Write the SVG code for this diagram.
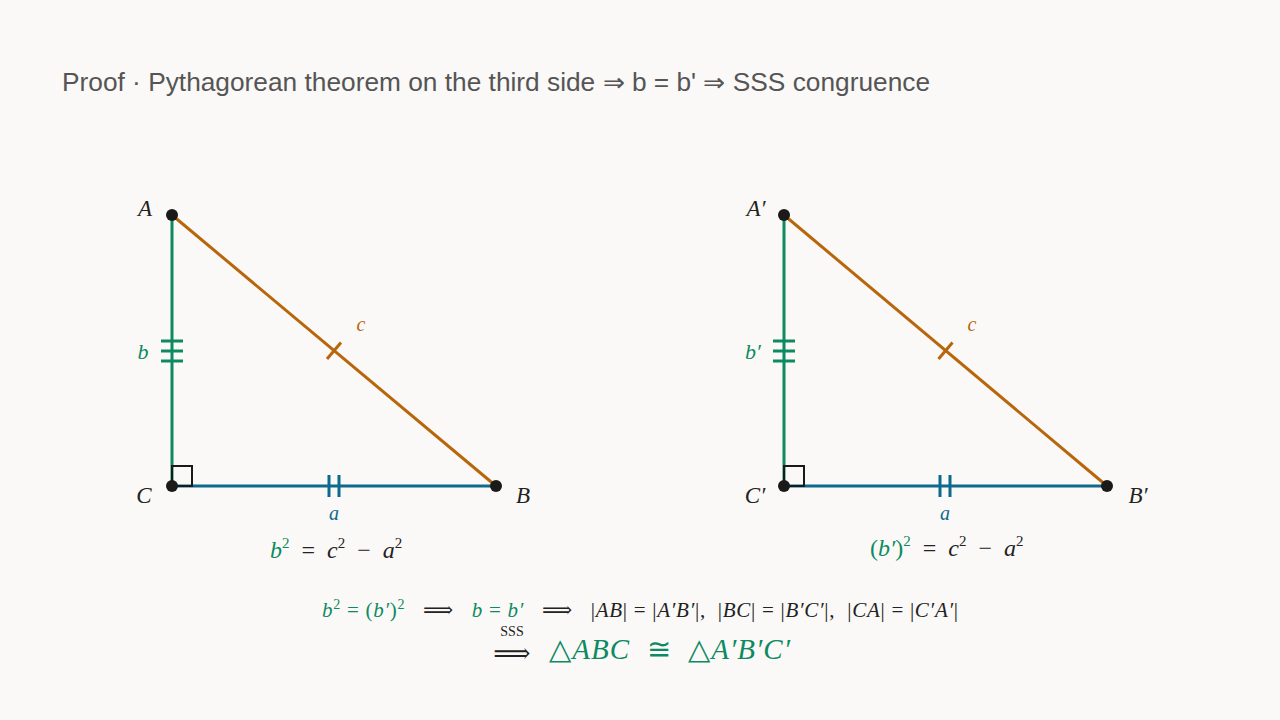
<svg xmlns="http://www.w3.org/2000/svg" width="1280" height="720" viewBox="0 0 1280 720">
<style>
text{white-space:pre;}
.m{font-family:"Liberation Serif","DejaVu Serif",serif;font-style:italic;}
.r{font-family:"Liberation Serif","DejaVu Serif",serif;font-style:normal;}
.g{fill:#0d8a62;}
.k{fill:#222;}
.o{fill:#b8660b;}
.bl{fill:#0e6a8c;}
.lg{stroke:#0d8a62;stroke-width:3;fill:none;}
.lb{stroke:#0e6a8c;stroke-width:3;fill:none;}
.lo{stroke:#b8660b;stroke-width:3;fill:none;}
.ra{stroke:#1a1a1a;stroke-width:2;fill:none;}
.dot{fill:#1a1a1a;}
</style>
<rect width="1280" height="720" fill="#faf9f7"/>
<text x="62" y="91" font-family="'Liberation Sans',Arial,sans-serif" font-size="25" fill="#555" textLength="868" lengthAdjust="spacingAndGlyphs">Proof · Pythagorean theorem on the third side ⇒ b = b' ⇒ SSS congruence</text>

<g id="tri1">
  <g id="connectors1">
    <line class="lg" x1="172" y1="215" x2="172" y2="486"/>
    <line class="lb" x1="172" y1="486" x2="496" y2="486"/>
    <line class="lo" x1="172" y1="215" x2="496" y2="486"/>
    <path class="lg" d="M161 341H183M161 351H183M161 361H183"/>
    <path class="lb" d="M329 475V497M339 475V497"/>
    <line class="lo" x1="327" y1="359" x2="341" y2="342.5"/>
    <rect class="ra" x="172" y="466" width="20" height="20"/>
  </g>
  <g id="A"><circle class="dot" cx="172" cy="215" r="6"/><text class="m k" x="145" y="216" font-size="23" text-anchor="middle">A</text></g>
  <g id="B"><circle class="dot" cx="496" cy="486" r="6"/><text class="m k" x="523" y="503" font-size="23" text-anchor="middle">B</text></g>
  <g id="C"><circle class="dot" cx="172" cy="486" r="6"/><text class="m k" x="144" y="503" font-size="23" text-anchor="middle">C</text></g>
  <text class="m g" x="143" y="359" font-size="22" text-anchor="middle">b</text>
  <text class="m o" x="361" y="331" font-size="20" text-anchor="middle">c</text>
  <text class="m bl" x="334" y="520" font-size="20" text-anchor="middle">a</text>
  <text class="m k" x="270" y="558" font-size="24"><tspan class="g">b</tspan><tspan class="r g" font-size="15" dy="-10">2</tspan><tspan class="r" dy="10">  =  </tspan>c<tspan class="r" font-size="15" dy="-10">2</tspan><tspan class="r" dy="10">  −  </tspan>a<tspan class="r" font-size="15" dy="-10">2</tspan></text>
</g>

<g id="tri2">
  <g id="connectors2">
    <line class="lg" x1="784" y1="215" x2="784" y2="486"/>
    <line class="lb" x1="784" y1="486" x2="1107" y2="486"/>
    <line class="lo" x1="784" y1="215" x2="1107" y2="486"/>
    <path class="lg" d="M773 341H795M773 351H795M773 361H795"/>
    <path class="lb" d="M940 475V497M950 475V497"/>
    <line class="lo" x1="938.5" y1="359" x2="952.5" y2="342.5"/>
    <rect class="ra" x="784" y="466" width="20" height="20"/>
  </g>
  <g id="A2"><circle class="dot" cx="784" cy="215" r="6"/><text class="m k" x="756" y="216" font-size="23" text-anchor="middle">A′</text></g>
  <g id="B2"><circle class="dot" cx="1107" cy="486" r="6"/><text class="m k" x="1138" y="503" font-size="23" text-anchor="middle">B′</text></g>
  <g id="C2"><circle class="dot" cx="784" cy="486" r="6"/><text class="m k" x="755" y="503" font-size="23" text-anchor="middle">C′</text></g>
  <text class="m g" x="753" y="359" font-size="22" text-anchor="middle">b′</text>
  <text class="m o" x="972" y="331" font-size="20" text-anchor="middle">c</text>
  <text class="m bl" x="945" y="520" font-size="20" text-anchor="middle">a</text>
  <text class="m k" x="870" y="556" font-size="24"><tspan class="r g">(</tspan><tspan class="g">b′</tspan><tspan class="r g">)</tspan><tspan class="r g" font-size="15" dy="-10">2</tspan><tspan class="r" dy="10">  =  </tspan>c<tspan class="r" font-size="15" dy="-10">2</tspan><tspan class="r" dy="10">  −  </tspan>a<tspan class="r" font-size="15" dy="-10">2</tspan></text>
</g>

<g id="conclusion">
  <text class="m k" x="322" y="617" font-size="21" textLength="636" lengthAdjust="spacing"><tspan class="g">b</tspan><tspan class="r g" font-size="14" dy="-8">2</tspan><tspan class="r g" dy="8"> = (</tspan><tspan class="g">b′</tspan><tspan class="r g">)</tspan><tspan class="r g" font-size="14" dy="-8">2</tspan><tspan class="r" dy="8">   ⟹   </tspan><tspan class="g">b</tspan><tspan class="r g"> = </tspan><tspan class="g">b′</tspan><tspan class="r">   ⟹   |</tspan>AB<tspan class="r">| = |</tspan>A′B′<tspan class="r">|,  |</tspan>BC<tspan class="r">| = |</tspan>B′C′<tspan class="r">|,  |</tspan>CA<tspan class="r">| = |</tspan>C′A′<tspan class="r">|</tspan></text>
  <text class="r k" x="512" y="636" font-size="14" text-anchor="middle">SSS</text>
  <text class="r k" x="512" y="662" font-size="26" text-anchor="middle">⟹</text>
  <text class="m g" x="549" y="659" font-size="29" textLength="241" lengthAdjust="spacing"><tspan class="r">△</tspan>ABC<tspan class="r">  ≅  △</tspan>A′B′C′</text>
</g>
</svg>
